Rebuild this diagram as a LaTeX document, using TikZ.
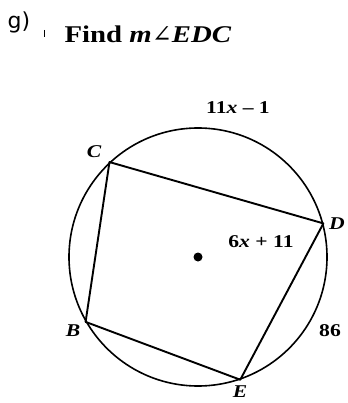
\documentclass[tikz,border=0pt]{standalone}
\usepackage{fontspec}
\setmainfont[FakeStretch=1.2]{Liberation Serif}
\newfontfamily\partfont{DejaVu Sans}
\newfontfamily\anglefont{DejaVu Serif}
\usetikzlibrary{positioning}

\begin{document}
\begin{tikzpicture}[x=1pt,y=-1pt,
  vertexlbl/.style={font=\fontsize{18}{18}\selectfont\bfseries\itshape,inner sep=1pt},
  arclbl/.style={font=\fontsize{18}{18}\selectfont\bfseries,inner sep=1pt},
  chord/.style={line width=1.9pt,line join=round}]
\useasboundingbox (0,0) rectangle (347,403);
% heading
\node[font=\fontsize{22}{22}\selectfont\partfont] (part) at (19,22) {g)};
\draw[line width=1pt] (44,30) -- (44,37);
\node[font=\fontsize{24}{24}\selectfont\bfseries] (title) at (148,34)
  {Find \textit{m}{\anglefont\mdseries\itshape ∠}\textit{EDC}};
% circle and centre
\node[draw,circle,line width=1.6pt,minimum size=258pt,inner sep=0pt] (rim) at (198,257) {};
\fill (rim.center) circle (4.5pt);
% inscribed quadrilateral
\coordinate (C) at (rim.133.8);
\coordinate (D) at (rim.15.2);
\coordinate (E) at (rim.289.3);
\coordinate (B) at (rim.210.8);
\draw[chord] (C) -- (D) -- (E) -- (B) -- cycle;
% labels
\node[vertexlbl] (lC) at (94,152) {C};
\node[vertexlbl] (lD) at (337,224) {D};
\node[vertexlbl] (lB) at (73,331) {B};
\node[vertexlbl] (lE) at (240,392) {E};
\node[arclbl] (arcCD) at (238,108) {11\textit{x} – 1};
\node[arclbl] (angD) at (261,242) {6\textit{x} + 11};
\node[arclbl] (arcDE) at (330,331) {86};
\end{tikzpicture}
\end{document}
